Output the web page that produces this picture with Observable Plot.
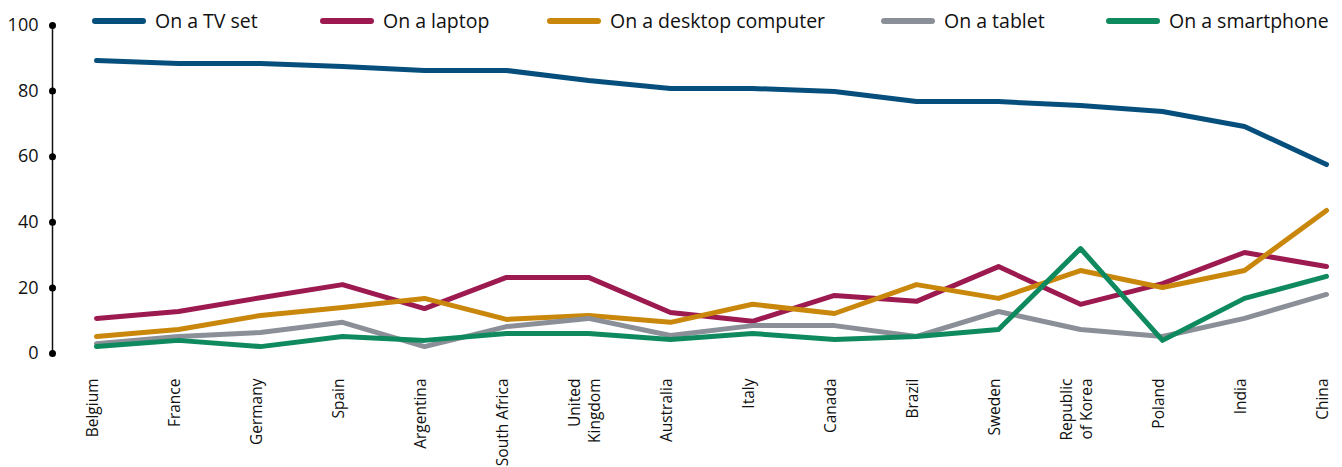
<!DOCTYPE html>
<html>
<head>
<meta charset="utf-8">
<script src="https://cdn.jsdelivr.net/npm/d3@7"></script>
<script src="https://cdn.jsdelivr.net/npm/@observablehq/plot@0.6"></script>
<style>
  body { margin: 0; background: #fff; font-family: "Open Sans", sans-serif; }
  #wrap { position: relative; width: 1342px; height: 467px; }
  #legend { position: absolute; top: 0; left: 0; width: 1342px; height: 40px; }
  .item { position: absolute; top: 7px; display: flex; align-items: center; font-size: 19.5px; color: #111; white-space: nowrap; }
  .sw { width: 54px; height: 6px; border-radius: 3px; margin-right: 9px; }
</style>
</head>
<body>
<div id="wrap">
  <div id="chart"></div>
  <div id="legend"></div>
</div>
<script>
const countries = ["Belgium","France","Germany","Spain","Argentina","South Africa","United\nKingdom","Australia","Italy","Canada","Brazil","Sweden","Republic\nof Korea","Poland","India","China"];
const seriesNames = ["On a TV set","On a laptop","On a desktop computer","On a tablet","On a smartphone"];
const colors = ["#064f7d","#9c1a50","#c9870b","#8b9098","#0e8a5e"];
const tvSet      = [89.3,88.4,88.4,87.5,86.3,86.3,83.2,80.8,80.8,79.9,76.8,76.8,75.6,73.8,69.2,57.6];
const laptop     = [10.7,12.8,17.0,21.0,13.7,23.2,23.2,12.5,9.8,17.7,15.9,26.5,15.0,21.3,30.8,26.5];
const desktop    = [5.2,7.3,11.6,14.0,16.8,10.4,11.6,9.5,15.0,12.2,21.0,16.8,25.3,20.1,25.3,43.6];
const tablet     = [3.0,5.2,6.4,9.5,2.1,8.2,10.7,5.5,8.5,8.5,5.2,12.8,7.3,5.2,10.7,18.0];
const smartphone = [2.1,4.0,2.1,5.2,4.0,6.1,6.1,4.3,6.1,4.3,5.2,7.3,32.0,4.0,16.8,23.5];
const yTicks = [0,20,40,60,80,100];

const allSeries = [tvSet, laptop, desktop, tablet, smartphone];
const data = [];
allSeries.forEach((vals, si) => vals.forEach((v, i) => data.push({country: countries[i], series: seriesNames[si], value: v})));

const chart = Plot.plot({
  width: 1342,
  height: 467,
  marginLeft: 52,
  marginRight: 14,
  marginTop: 25,
  marginBottom: 114,
  insetLeft: 41,
  style: { fontFamily: "'Open Sans', sans-serif", fontSize: "17px", color: "#111" },
  x: { type: "point", domain: countries, padding: 0, label: null },
  y: { domain: [0, 100], label: null },
  color: { domain: seriesNames, range: colors },
  marks: [
    Plot.frame({ anchor: "left", stroke: "#111", strokeWidth: 1.5 }),
    Plot.dot(yTicks, { y: d => d, frameAnchor: "left", r: 3.5, fill: "#000" }),
    Plot.axisY({ ticks: yTicks, tickSize: 0, tickPadding: 14, label: null, fontSize: 18 }),
    Plot.axisX({ tickSize: 0, tickRotate: -90, tickPadding: 25, label: null, fontSize: 15.5, lineHeight: 1.3, dx: -5 }),
    Plot.line(data, { x: "country", y: "value", z: "series", stroke: "series", strokeWidth: 5, strokeLinejoin: "round", curve: "linear" })
  ]
});
document.getElementById("chart").appendChild(chart);

const legendPos = [92, 320, 547, 881, 1106];
const legend = document.getElementById("legend");
seriesNames.forEach((name, i) => {
  const it = document.createElement("div");
  it.className = "item";
  it.style.left = legendPos[i] + "px";
  const sw = document.createElement("div");
  sw.className = "sw";
  sw.style.background = colors[i];
  const tx = document.createElement("span");
  tx.textContent = name;
  it.appendChild(sw); it.appendChild(tx);
  legend.appendChild(it);
});
</script>
</body>
</html>
